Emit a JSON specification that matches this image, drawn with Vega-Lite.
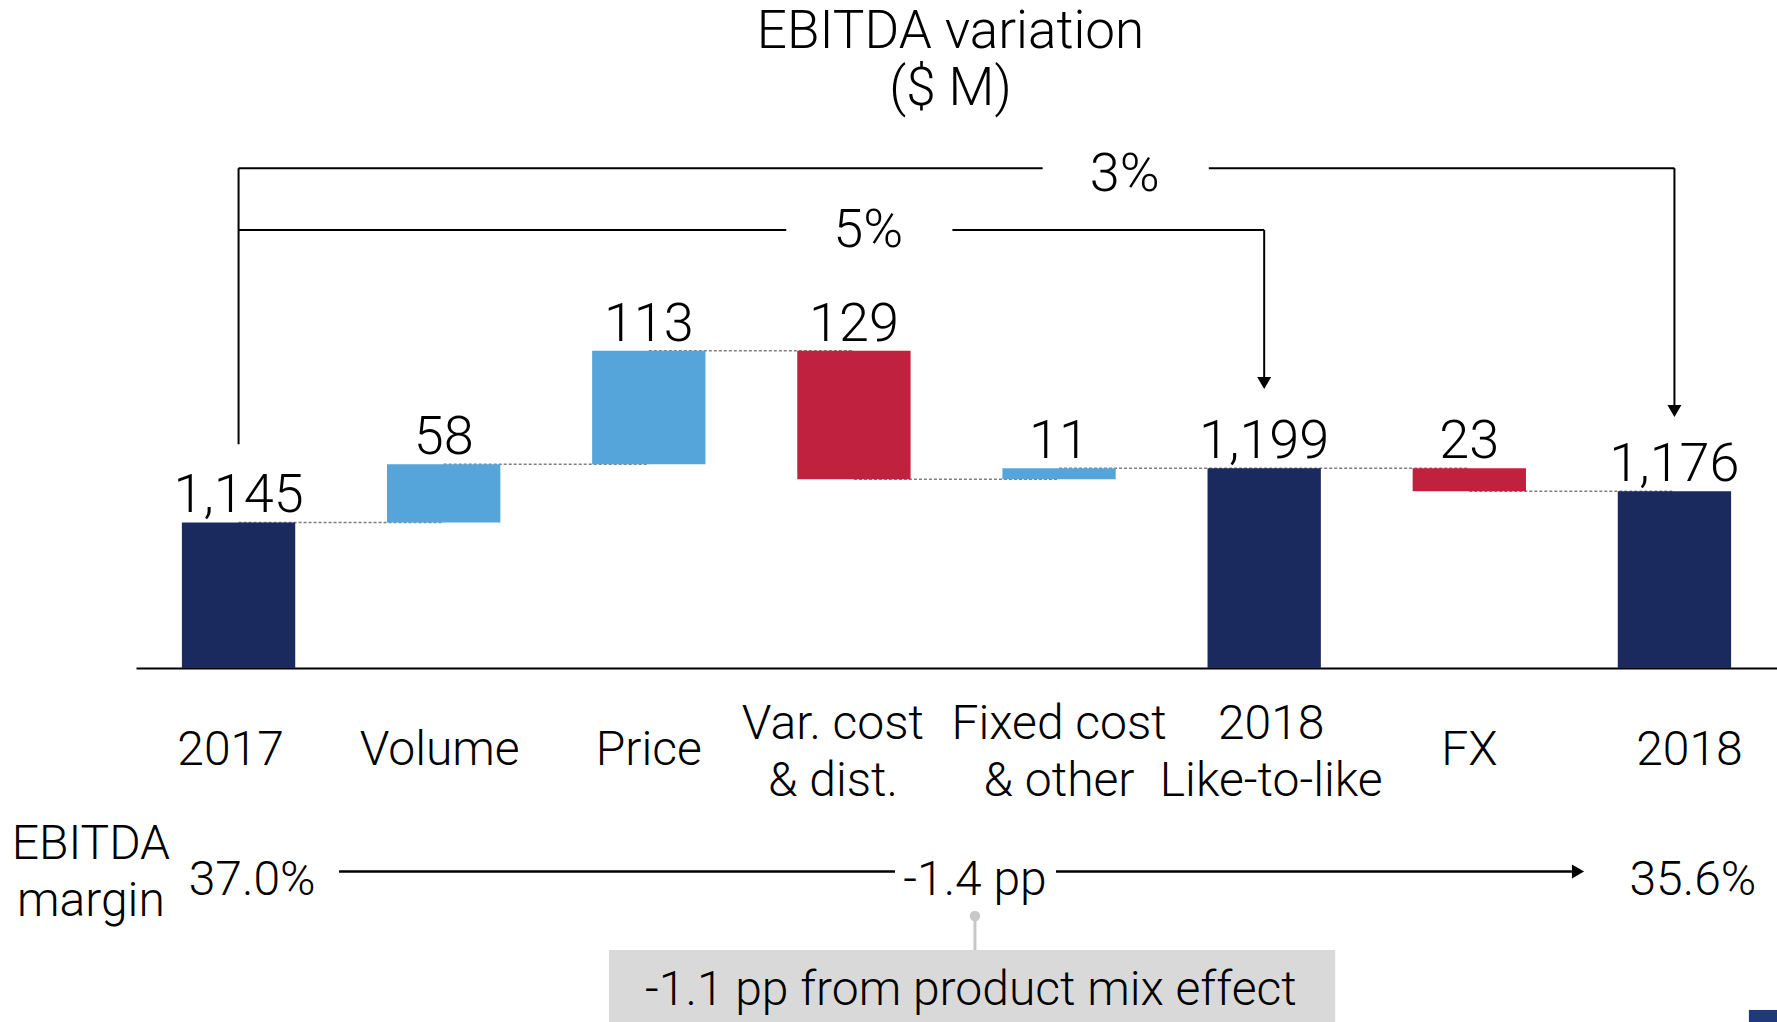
{
  "$schema": "https://vega.github.io/schema/vega-lite/v6.json",
  "autosize": "none",
  "width": 1641,
  "height": 548,
  "padding": {"left": 136, "top": 120, "right": 0, "bottom": 354},
  "background": "white",
  "config": {
    "view": {"stroke": null},
    "font": "Roboto",
    "text": {"font": "Roboto", "fontWeight": 300, "fontSize": 48, "color": "black"},
    "axisX": {
      "title": null,
      "labelExpr": "split(datum.label, '\\n')",
      "labelAngle": 0,
      "labelFont": "Roboto",
      "labelFontWeight": 300,
      "labelFontSize": 48,
      "labelLineHeight": 57,
      "labelColor": "black",
      "labelBaseline": "middle",
      "labelPadding": {"condition": {"test": "indexof(datum.value, '\\n') >= 0", "value": 56.5}, "value": 82},
      "labelOffset": {"condition": [
        {"test": "datum.value == '2017'", "value": -8},
        {"test": "datum.value == 'Volume'", "value": -4},
        {"test": "indexof(datum.value, 'Var.') == 0", "value": -21},
        {"test": "indexof(datum.value, 'Like') >= 0", "value": 7},
        {"test": "datum.value == '2018'", "value": 15}
      ], "value": 0},
      "labelOverlap": false,
      "labelFlush": false,
      "labelBound": false,
      "labelLimit": 0,
      "ticks": false,
      "tickSize": 0,
      "domainColor": "black",
      "domainWidth": 2,
      "grid": false
    }
  },
  "title": {
    "text": ["EBITDA variation", "($ M)"],
    "font": "Roboto",
    "fontWeight": 300,
    "fontSize": 53,
    "lineHeight": 57,
    "color": "black",
    "anchor": "middle",
    "frame": "group",
    "dx": -6
  },
  "datasets": {
    "steps": [
      {"cat": "2017", "start": 0, "end": 1145, "label": "1,145", "kind": "total"},
      {"cat": "Volume", "start": 1145, "end": 1203, "label": "58", "kind": "up"},
      {"cat": "Price", "start": 1203, "end": 1316, "label": "113", "kind": "up"},
      {"cat": "Var. cost\n& dist.", "start": 1316, "end": 1188, "label": "129", "kind": "down"},
      {"cat": "Fixed cost\n& other", "start": 1188, "end": 1199, "label": "11", "kind": "up"},
      {"cat": "2018\nLike-to-like", "start": 0, "end": 1199, "label": "1,199", "kind": "total"},
      {"cat": "FX", "start": 1199, "end": 1176, "label": "23", "kind": "down"},
      {"cat": "2018", "start": 0, "end": 1176, "label": "1,176", "kind": "total"}
    ],
    "links": [
      {"from": "2017", "to": "Volume", "level": 1145},
      {"from": "Volume", "to": "Price", "level": 1203},
      {"from": "Price", "to": "Var. cost\n& dist.", "level": 1316},
      {"from": "Var. cost\n& dist.", "to": "Fixed cost\n& other", "level": 1188},
      {"from": "Fixed cost\n& other", "to": "2018\nLike-to-like", "level": 1199},
      {"from": "2018\nLike-to-like", "to": "FX", "level": 1199},
      {"from": "FX", "to": "2018", "level": 1176}
    ]
  },
  "resolve": {"scale": {"x": "independent"}},
  "layer": [
    {
      "layer": [
        {
          "data": {"name": "links"},
          "mark": {"type": "rule", "color": "#7f7f7f", "strokeWidth": 1.5, "strokeDash": [3, 2]},
          "encoding": {
            "x": {"field": "from", "type": "nominal", "title": null,
                  "scale": {"domain": ["2017", "Volume", "Price", "Var. cost\n& dist.", "Fixed cost\n& other", "2018\nLike-to-like", "FX", "2018"], "paddingInner": 0.4475, "paddingOuter": 0.22375}},
            "x2": {"field": "to"},
            "y": {"field": "level", "type": "quantitative", "scale": {"domain": [1000, 1546], "nice": false, "zero": false}, "axis": null}
          }
        },
        {
          "data": {"name": "steps"},
          "mark": {"type": "bar", "clip": true},
          "encoding": {
            "x": {"field": "cat", "type": "nominal", "sort": null, "title": null,
                  "scale": {"domain": ["2017", "Volume", "Price", "Var. cost\n& dist.", "Fixed cost\n& other", "2018\nLike-to-like", "FX", "2018"], "paddingInner": 0.4475, "paddingOuter": 0.22375}},
            "y": {"field": "start", "type": "quantitative", "scale": {"domain": [1000, 1546], "nice": false, "zero": false}, "axis": null},
            "y2": {"field": "end"},
            "color": {"field": "kind", "type": "nominal", "legend": null,
                      "scale": {"domain": ["total", "up", "down"], "range": ["#1B2A5E", "#55A5DB", "#C0213F"]}}
          }
        },
        {
          "data": {"name": "steps"},
          "transform": [{"calculate": "max(datum.start, datum.end)", "as": "top"}],
          "mark": {"type": "text", "baseline": "alphabetic", "dy": -10, "fontSize": 54},
          "encoding": {
            "x": {"field": "cat", "type": "nominal", "title": null,
                  "scale": {"domain": ["2017", "Volume", "Price", "Var. cost\n& dist.", "Fixed cost\n& other", "2018\nLike-to-like", "FX", "2018"], "paddingInner": 0.4475, "paddingOuter": 0.22375}},
            "y": {"field": "top", "type": "quantitative", "scale": {"domain": [1000, 1546], "nice": false, "zero": false}, "axis": null},
            "text": {"field": "label"}
          }
        }
      ]
    },
    {
      "data": {"values": [{}]},
      "layer": [
        {"mark": {"type": "rule", "color": "black", "strokeWidth": 2},
         "encoding": {"x": {"datum": 0.5, "type": "quantitative", "scale": {"domain": [0, 8], "nice": false, "zero": false}, "axis": null}, "x2": {"datum": 4.42}, "y": {"datum": 1498, "type": "quantitative"}}},
        {"mark": {"type": "rule", "color": "black", "strokeWidth": 2},
         "encoding": {"x": {"datum": 5.23, "type": "quantitative", "axis": null}, "x2": {"datum": 7.5}, "y": {"datum": 1498, "type": "quantitative"}}},
        {"mark": {"type": "rule", "color": "black", "strokeWidth": 2},
         "encoding": {"x": {"datum": 0.5, "type": "quantitative", "axis": null}, "y": {"datum": 1498, "type": "quantitative"}, "y2": {"datum": 1223}}},
        {"mark": {"type": "rule", "color": "black", "strokeWidth": 2},
         "encoding": {"x": {"datum": 7.5, "type": "quantitative", "axis": null}, "y": {"datum": 1498, "type": "quantitative"}, "y2": {"datum": 1256}}},
        {"mark": {"type": "point", "shape": "triangle-down", "filled": true, "color": "black", "opacity": 1, "size": 196},
         "encoding": {"x": {"datum": 7.5, "type": "quantitative", "axis": null}, "y": {"datum": 1256, "type": "quantitative"}}},
        {"mark": {"type": "text", "baseline": "middle", "fontSize": 54},
         "encoding": {"x": {"datum": 4.82, "type": "quantitative", "axis": null}, "y": {"datum": 1491.5, "type": "quantitative"}, "text": {"value": "3%"}}},
        {"mark": {"type": "rule", "color": "black", "strokeWidth": 2},
         "encoding": {"x": {"datum": 0.5, "type": "quantitative", "axis": null}, "x2": {"datum": 3.17}, "y": {"datum": 1436.4, "type": "quantitative"}}},
        {"mark": {"type": "rule", "color": "black", "strokeWidth": 2},
         "encoding": {"x": {"datum": 3.98, "type": "quantitative", "axis": null}, "x2": {"datum": 5.5}, "y": {"datum": 1436.4, "type": "quantitative"}}},
        {"mark": {"type": "rule", "color": "black", "strokeWidth": 2},
         "encoding": {"x": {"datum": 5.5, "type": "quantitative", "axis": null}, "y": {"datum": 1436.4, "type": "quantitative"}, "y2": {"datum": 1284}}},
        {"mark": {"type": "point", "shape": "triangle-down", "filled": true, "color": "black", "opacity": 1, "size": 196},
         "encoding": {"x": {"datum": 5.5, "type": "quantitative", "axis": null}, "y": {"datum": 1284, "type": "quantitative"}}},
        {"mark": {"type": "text", "baseline": "middle", "fontSize": 54},
         "encoding": {"x": {"datum": 3.57, "type": "quantitative", "axis": null}, "y": {"datum": 1435, "type": "quantitative"}, "text": {"value": "5%"}}},
        {"mark": {"type": "text", "baseline": "middle", "align": "center", "lineBreak": "\n", "lineHeight": 57},
         "encoding": {"x": {"datum": -0.22, "type": "quantitative", "axis": null}, "y": {"datum": 823.6, "type": "quantitative"}, "text": {"value": "EBITDA\nmargin"}}},
        {"mark": {"type": "text", "baseline": "middle"},
         "encoding": {"x": {"datum": 0.566, "type": "quantitative", "axis": null}, "y": {"datum": 787.5, "type": "quantitative"}, "text": {"value": "37.0%"}}},
        {"mark": {"type": "rule", "color": "black", "strokeWidth": 2.5},
         "encoding": {"x": {"datum": 0.99, "type": "quantitative", "axis": null}, "x2": {"datum": 3.70}, "y": {"datum": 797.3, "type": "quantitative"}}},
        {"mark": {"type": "rule", "color": "black", "strokeWidth": 2.5},
         "encoding": {"x": {"datum": 4.485, "type": "quantitative", "axis": null}, "x2": {"datum": 7.0}, "y": {"datum": 797.3, "type": "quantitative"}}},
        {"mark": {"type": "point", "shape": "triangle-right", "filled": true, "color": "black", "opacity": 1, "size": 196},
         "encoding": {"x": {"datum": 7.03, "type": "quantitative", "axis": null}, "y": {"datum": 797.3, "type": "quantitative"}}},
        {"mark": {"type": "text", "baseline": "middle"},
         "encoding": {"x": {"datum": 4.09, "type": "quantitative", "axis": null}, "y": {"datum": 787.5, "type": "quantitative"}, "text": {"value": "-1.4 pp"}}},
        {"mark": {"type": "text", "baseline": "middle"},
         "encoding": {"x": {"datum": 7.59, "type": "quantitative", "axis": null}, "y": {"datum": 787.5, "type": "quantitative"}, "text": {"value": "35.6%"}}},
        {"mark": {"type": "rule", "color": "#c8c8c8", "strokeWidth": 3},
         "encoding": {"x": {"datum": 4.09, "type": "quantitative", "axis": null}, "y": {"datum": 752.9, "type": "quantitative"}, "y2": {"datum": 719}}},
        {"mark": {"type": "point", "shape": "circle", "filled": true, "color": "#c8c8c8", "opacity": 1, "size": 110},
         "encoding": {"x": {"datum": 4.09, "type": "quantitative", "axis": null}, "y": {"datum": 752.9, "type": "quantitative"}}},
        {"mark": {"type": "rect", "color": "#d9d9d9"},
         "encoding": {"x": {"datum": 2.306, "type": "quantitative", "axis": null}, "x2": {"datum": 5.846}, "y": {"datum": 719, "type": "quantitative"}, "y2": {"datum": 647.3}}},
        {"mark": {"type": "text", "baseline": "middle"},
         "encoding": {"x": {"datum": 4.07, "type": "quantitative", "axis": null}, "y": {"datum": 678.6, "type": "quantitative"}, "text": {"value": "-1.1 pp from product mix effect"}}},
        {"mark": {"type": "rect", "color": "#1F3A7A"},
         "encoding": {"x": {"datum": 7.863, "type": "quantitative", "axis": null}, "x2": {"datum": 8.0}, "y": {"datum": 659.3, "type": "quantitative"}, "y2": {"datum": 647.3}}}
      ]
    }
  ]
}
